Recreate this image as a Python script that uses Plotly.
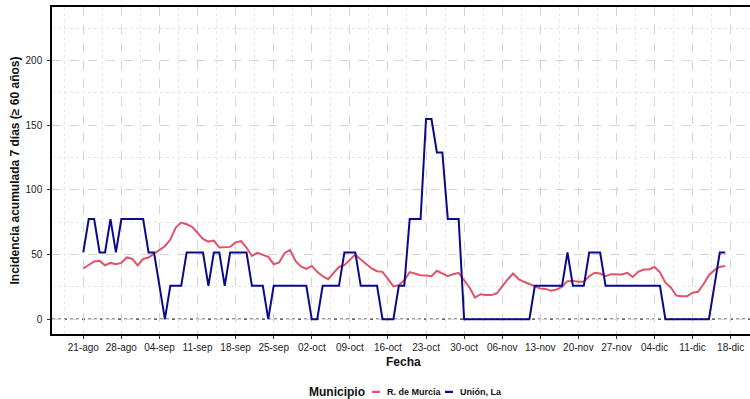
import pandas as pd
import plotly.graph_objects as go

start_date = "2020-08-21"

murcia = [39.2, 42.2, 44.6, 45.1, 41.7, 43.5, 42.5, 43.5, 47.7, 46.6,
          41.5, 46.6, 47.7, 50.7, 53.8, 56.4, 61.6, 70.8, 74.7, 73.4,
          71.4, 66.7, 62.1, 60.0, 60.8, 55.4, 55.9, 55.9, 59.4, 60.3,
          55.4, 48.9, 51.3, 50.0, 48.2, 42.5, 43.9, 51.0, 53.5, 45.1,
          40.8, 38.9, 41.2, 36.6, 33.2, 30.9, 35.3, 40.4, 41.7, 45.6,
          50.0, 46.1, 42.5, 39.2, 37.1, 36.6, 31.2, 25.3, 26.3, 30.1,
          36.4, 35.3, 34.0, 33.7, 33.2, 37.4, 35.6, 33.2, 34.8, 35.8,
          30.1, 24.5, 16.7, 19.3, 18.6, 18.6, 20.0, 25.5, 30.7, 35.3,
          31.0, 28.9, 27.0, 25.0, 23.7, 23.4, 21.9, 22.9, 25.2, 29.4,
          29.6, 28.9, 28.9, 33.2, 35.8, 35.3, 33.2, 34.8, 34.8, 34.5,
          35.8, 32.7, 36.6, 38.4, 38.4, 40.4, 36.2, 28.2, 24.5, 18.3,
          17.8, 17.8, 20.4, 21.1, 27.0, 34.0, 37.9, 40.4, 41.2]

union = [51.6, 77.4, 77.4, 51.6, 51.6, 77.4, 51.6, 77.4, 77.4, 77.4,
         77.4, 77.4, 51.6, 51.6, 25.8, 0, 25.8, 25.8, 25.8, 51.6,
         51.6, 51.6, 51.6, 25.8, 51.6, 51.6, 25.8, 51.6, 51.6, 51.6,
         51.6, 25.8, 25.8, 25.8, 0, 25.8, 25.8, 25.8, 25.8, 25.8,
         25.8, 25.8, 0, 0, 25.8, 25.8, 25.8, 25.8, 51.6, 51.6,
         51.6, 25.8, 25.8, 25.8, 25.8, 0, 0, 0, 25.8, 25.8,
         77.4, 77.4, 77.4, 154.8, 154.8, 129.0, 129.0, 77.4, 77.4, 77.4,
         0, 0, 0, 0, 0, 0, 0, 0, 0, 0,
         0, 0, 0, 25.8, 25.8, 25.8, 25.8, 25.8, 25.8, 51.6,
         25.8, 25.8, 25.8, 51.6, 51.6, 51.6, 25.8, 25.8, 25.8, 25.8,
         25.8, 25.8, 25.8, 25.8, 25.8, 25.8, 25.8, 0, 0, 0,
         0, 0, 0, 0, 0, 0, 25.8, 51.6, 51.6]

tick_labels = ["21-ago", "28-ago", "04-sep", "11-sep", "18-sep", "25-sep",
               "02-oct", "09-oct", "16-oct", "23-oct", "30-oct", "06-nov",
               "13-nov", "20-nov", "27-nov", "04-dic", "11-dic", "18-dic"]

series_names = ["R. de Murcia", "Unión, La"]
series_colors = ["#DF536B", "#0A0A8C"]
legend_title = "Municipio"
x_title = "Fecha"
y_title = "Incidencia acumulada 7 días (≥ 60 años)"

dates = pd.date_range(start_date, periods=len(murcia), freq="D")
tick_dates = pd.date_range(start_date, periods=len(tick_labels), freq="7D")
minor_dates = [d - pd.Timedelta(hours=84) for d in tick_dates]

t0 = pd.Timestamp(start_date)
x_range = [t0 - pd.Timedelta(days=5.75), t0 + pd.Timedelta(days=122.55)]

fig = go.Figure()
for name, vals, col in zip(series_names, [murcia, union], series_colors):
    fig.add_trace(go.Scatter(x=dates, y=vals, mode="lines", name=name,
                             line=dict(color=col, width=2), showlegend=False))

fig.add_hline(y=0, line=dict(color="#333333", width=1.3, dash="dot"), layer="below")

# manual legend (bottom, centred on the panel)
leg_y = -0.177
fig.add_annotation(text="<b>" + legend_title + "</b>", xref="paper", yref="paper",
                   x=0.366, y=leg_y, xanchor="left", yanchor="middle", showarrow=False,
                   font=dict(size=12, color="#111"))
key_x = [(0.4585, 0.4700, 0.4765), (0.5630, 0.5745, 0.5810)]
for (x0, x1, xt), name, col in zip(key_x, series_names, series_colors):
    fig.add_shape(type="line", xref="paper", yref="paper", x0=x0, x1=x1,
                  y0=leg_y, y1=leg_y, line=dict(color=col, width=2.2))
    fig.add_annotation(text="<b>" + name + "</b>", xref="paper", yref="paper",
                       x=xt, y=leg_y, xanchor="left", yanchor="middle", showarrow=False,
                       font=dict(size=9, color="#111"))

# axis titles
fig.add_annotation(text="<b>" + x_title + "</b>", xref="paper", yref="paper",
                   x=0.504, y=-0.0856, xanchor="center", yanchor="middle", showarrow=False,
                   font=dict(size=12, color="#111"))
fig.add_annotation(text="<b>" + y_title + "</b>", xref="paper", yref="paper",
                   x=-0.0544, y=0.5, xanchor="center", yanchor="middle", showarrow=False,
                   textangle=-90, font=dict(size=12, color="#111"))

font_family = "Liberation Sans, Arial, sans-serif"
fig.update_layout(
    width=750, height=399,
    margin=dict(l=52, r=0, t=7, b=65),
    paper_bgcolor="white", plot_bgcolor="white",
    font=dict(family=font_family, color="#222222"),
    showlegend=False,
    xaxis=dict(
        type="date", range=x_range, automargin=False,
        tickvals=tick_dates, ticktext=tick_labels,
        tickfont=dict(size=10, color="#222"),
        ticks="outside", ticklen=3, tickcolor="#333",
        showline=True, linecolor="black", linewidth=1.5, mirror=True,
        showgrid=True, gridcolor="#d4d4d4", griddash="dash", gridwidth=1,
        minor=dict(tickvals=minor_dates, showgrid=True, gridcolor="#e6e6e6",
                   griddash="dot", gridwidth=1),
        zeroline=False,
    ),
    yaxis=dict(
        range=[-11.5, 241.5], automargin=False,
        tickvals=[0, 50, 100, 150, 200],
        tickfont=dict(size=10, color="#222"),
        ticks="outside", ticklen=3, tickcolor="#333", ticklabelstandoff=3,
        showline=True, linecolor="black", linewidth=1.5, mirror=False,
        showgrid=True, gridcolor="#d4d4d4", griddash="dash", gridwidth=1,
        minor=dict(tickvals=[25, 75, 125, 175, 225], showgrid=True,
                   gridcolor="#e6e6e6", griddash="dot", gridwidth=1),
        zeroline=False,
    ),
)

fig.write_html("out.html", config={"displayModeBar": False},
               post_script="document.body.style.margin='0px';")
